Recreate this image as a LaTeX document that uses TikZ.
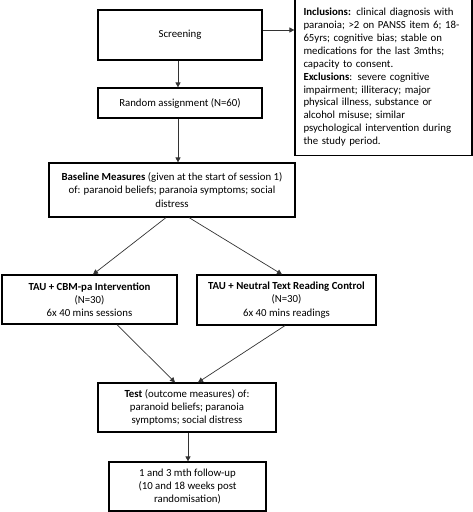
\documentclass[tikz,border=0pt]{standalone}
\usepackage{fontspec}
\setmainfont{Carlito}
\usetikzlibrary{arrows.meta,calc}
\begin{document}
\begin{tikzpicture}[x=1pt,y=-1pt,
  box/.style={draw=black,line width=1.2pt,inner sep=2pt,align=center,font=\fontsize{10.8}{13.2}\selectfont},
  arr/.style={draw=black!80,line width=0.7pt,-{Triangle[length=5pt,width=5pt]}},
  ln/.style={draw=black!80,line width=0.7pt}]
\useasboundingbox (0,0) rectangle (473,512);
\node[box,minimum width=164pt,minimum height=50pt] (screen) at (180,35) {Screening};
\node[box,minimum width=177pt,minimum height=156.5pt,align=left,text width=160pt,inner xsep=8.5pt,font=\fontsize{10.8}{12.9}\selectfont] (incl) at (383.5,77.25)
 {\textbf{Inclusions:} clinical diagnosis with\\ paranoia; >2 on PANSS item 6; 18-\\65yrs; cognitive bias; stable on\\ medications for the last 3mths;\\ capacity to consent.\\ \textbf{Exclusions}: severe cognitive\\ impairment; illiteracy; major\\ physical illness, substance or\\ alcohol misuse; similar\\ psychological intervention during\\ the study period.};
\node[box,minimum width=164pt,minimum height=30pt] (rand) at (180,103) {Random assignment (N=60)};
\node[box,minimum width=246pt,minimum height=54pt,font=\fontsize{10.8}{13.5}\selectfont] (base) at (172,190)
 {\textbf{Baseline Measures} (given at the start of session 1)\\ of: paranoid beliefs; paranoia symptoms; social\\ distress};
\node[box,minimum width=175pt,minimum height=49pt] (cbm) at (89.5,299.5)
 {\textbf{TAU + CBM-pa Intervention}\\ (N=30)\\ 6x 40 mins sessions};
\node[box,minimum width=179pt,minimum height=50pt] (neut) at (286.5,300)
 {\textbf{TAU + Neutral Text Reading Control}\\ (N=30)\\ 6x 40 mins readings};
\node[box,minimum width=178pt,minimum height=49pt,font=\fontsize{10.8}{12.7}\selectfont] (test) at (187,407.5)
 {\textbf{Test} (outcome measures) of:\\ paranoid beliefs; paranoia\\ symptoms; social distress};
\node[box,minimum width=157pt,minimum height=49pt] (fu) at (187.5,486.5)
 {1 and 3 mth follow-up\\ (10 and 18 weeks post\\ randomisation)};
\draw[arr] ([yshift=5pt]screen.east) -- ([yshift=5pt]screen.east -| incl.west);
\draw[arr] ([xshift=-2pt]screen.south) -- ([xshift=-2pt]rand.north);
\draw[arr] ([xshift=-2pt]rand.south) -- ([xshift=-2pt]rand.south |- base.north);
\draw[arr] ([xshift=-6pt]base.south) -- ([xshift=3.5pt]cbm.north);
\draw[arr] ([xshift=17pt]base.south) -- ([xshift=-4.5pt]neut.north);
\draw[arr] ([xshift=27.5pt]cbm.south) -- ([xshift=-12pt]test.north);
\draw[arr] ([xshift=-1.5pt]neut.south) -- ([xshift=11pt]test.north);
\draw[arr] ([xshift=1pt]test.south) -- ([xshift=0.5pt]fu.north);
\end{tikzpicture}
\end{document}
